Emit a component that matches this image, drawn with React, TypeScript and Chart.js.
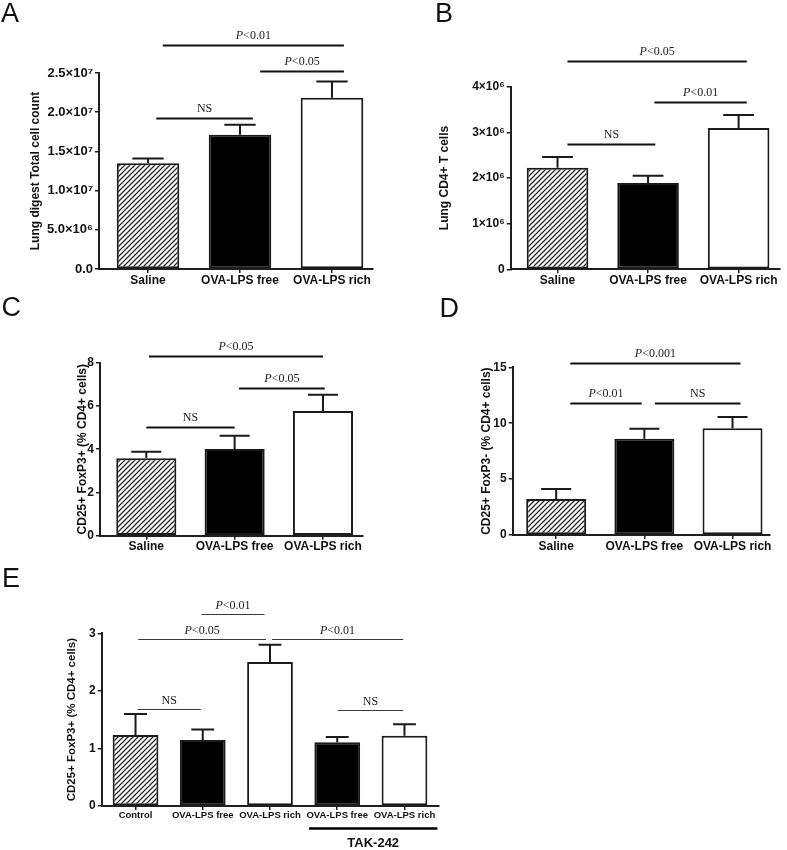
import React, { useEffect, useRef } from "react";
import { Chart, registerables } from "chart.js";

Chart.register(...registerables);

const SANS = "'Liberation Sans', Arial, Helvetica, sans-serif";
const SERIF = "'Liberation Serif', 'Times New Roman', serif";

// ---------- data ----------
const groups3 = ["Saline", "OVA-LPS free", "OVA-LPS rich"];
const groupsE = ["Control", "OVA-LPS free", "OVA-LPS rich", "OVA-LPS free", "OVA-LPS rich"];
const fills3 = ["hatch", "black", "white"];
const fillsE = ["hatch", "black", "white", "black", "white"];

// Panel A
const meanA = [1.348e7, 1.713e7, 2.185e7];
const semA = [0.062e7, 0.127e7, 0.205e7];
const yTicksA = ["0.0", "5.0×10⁶", "1.0×10⁷", "1.5×10⁷", "2.0×10⁷", "2.5×10⁷"];
const sigA = [
  { from: 0.16, to: 2.13, level: 2.857e7, label: "P<0.01" },
  { from: 1.22, to: 2.13, level: 2.526e7, label: "P<0.05" },
  { from: 0.09, to: 1.14, level: 1.926e7, label: "NS" },
];

// Panel B
const meanB = [2.226e6, 1.89e6, 3.095e6];
const semB = [0.234e6, 0.16e6, 0.285e6];
const yTicksB = ["0", "1×10⁶", "2×10⁶", "3×10⁶", "4×10⁶"];
const sigB = [
  { from: 0.11, to: 2.09, level: 4.57e6, label: "P<0.05" },
  { from: 1.07, to: 2.09, level: 3.671e6, label: "P<0.01" },
  { from: 0.11, to: 1.08, level: 2.745e6, label: "NS" },
];

// Panel C
const meanC = [3.58, 4.01, 5.77];
const semC = [0.3, 0.61, 0.75];
const yTicksC = ["0", "2", "4", "6", "8"];
const sigC = [
  { from: 0.03, to: 2.0, level: 8.324, label: "P<0.05" },
  { from: 1.05, to: 2.02, level: 6.844, label: "P<0.05" },
  { from: 0.0, to: 1.0, level: 5.027, label: "NS" },
];

// Panel D
const meanD = [3.22, 8.61, 9.54];
const semD = [0.89, 0.9, 1.01];
const yTicksD = ["0", "5", "10", "15"];
const sigD = [
  { from: 0.16, to: 2.09, level: 15.41, label: "P<0.001" },
  { from: 0.16, to: 0.97, level: 11.83, label: "P<0.01" },
  { from: 1.12, to: 2.09, level: 11.83, label: "NS" },
];

// Panel E
const meanE = [1.233, 1.146, 2.5, 1.106, 1.22];
const semE = [0.367, 0.184, 0.3, 0.094, 0.2];
const yTicksE = ["0", "1", "2", "3"];
const sigE = [
  { from: 0.98, to: 1.92, level: 3.335, label: "P<0.01" },
  { from: 0.04, to: 1.94, level: 2.901, label: "P<0.05" },
  { from: 2.03, to: 3.98, level: 2.901, label: "P<0.01" },
  { from: 0.03, to: 0.97, level: 1.68, label: "NS" },
  { from: 3.01, to: 3.98, level: 1.668, label: "NS" },
];
const takE = { from: 2.58, to: 4.49, label: "TAK-242" };

// ---------- types ----------
type Sig = { from: number; to: number; level: number; label: string };
type Spec = {
  left: number; top: number; w: number; h: number;
  axisW: number; padTop: number; padRight: number; xH: number;
  xMin: number; xMax: number;
  cats: string[]; means: number[]; errs: number[]; fills: string[];
  yMax: number; yStep: number; yLabels: string[];
  yTitle: string; titleSize: number; titlePad: number;
  xFontSize: number; yFontSize: number;
  sigs: Sig[]; sigLineW: number; sigColor: string; sigGap: number;
  letter: string; letterX: number; letterY: number;
  tak?: { from: number; to: number; label: string };
};

function makeHatch(ctx: CanvasRenderingContext2D) {
  const s = 5;
  const c = document.createElement("canvas");
  c.width = s;
  c.height = s;
  const g = c.getContext("2d")!;
  g.fillStyle = "#ffffff";
  g.fillRect(0, 0, s, s);
  g.strokeStyle = "#262626";
  g.lineWidth = 1.25;
  g.beginPath();
  g.moveTo(-1, s + 1);
  g.lineTo(s + 1, -1);
  g.moveTo(-1, 1);
  g.lineTo(1, -1);
  g.moveTo(s - 1, s + 1);
  g.lineTo(s + 1, s - 1);
  g.stroke();
  return ctx.createPattern(c, "repeat");
}

function drawSigLabel(ctx: CanvasRenderingContext2D, label: string, cx: number, y: number) {
  const size = 12;
  ctx.fillStyle = "#1a1a1a";
  ctx.textBaseline = "alphabetic";
  ctx.textAlign = "left";
  if (label.startsWith("P")) {
    const rest = label.slice(1);
    ctx.font = `italic ${size}px ${SERIF}`;
    const wp = ctx.measureText("P").width;
    ctx.font = `${size}px ${SERIF}`;
    const wr = ctx.measureText(rest).width;
    const x0 = cx - (wp + wr) / 2;
    ctx.font = `italic ${size}px ${SERIF}`;
    ctx.fillText("P", x0, y);
    ctx.font = `${size}px ${SERIF}`;
    ctx.fillText(rest, x0 + wp, y);
  } else {
    ctx.font = `${size}px ${SERIF}`;
    ctx.textAlign = "center";
    ctx.fillText(label, cx, y);
  }
}

function Panel({ spec }: { spec: Spec }) {
  const ref = useRef<HTMLCanvasElement | null>(null);
  useEffect(() => {
    const canvas = ref.current!;
    const ctx = canvas.getContext("2d")!;
    const hatch = makeHatch(ctx);
    const colors = spec.fills.map((f) => (f === "hatch" ? hatch : f === "black" ? "#000000" : "#ffffff"));
    const axisColor = "#1f1f1f";
    const textColor = "#111111";

    const overlay = {
      id: "overlay" + spec.letter,
      afterDatasetsDraw(chart: any) {
        const c = chart.ctx as CanvasRenderingContext2D;
        const ys = chart.scales.y;
        const meta = chart.getDatasetMeta(0);
        c.save();
        c.strokeStyle = "#1a1a1a";
        c.lineWidth = 2;
        meta.data.forEach((bar: any, i: number) => {
          const top = ys.getPixelForValue(spec.means[i] + spec.errs[i]);
          const half = bar.width / 4;
          c.beginPath();
          c.moveTo(bar.x, bar.y);
          c.lineTo(bar.x, top);
          c.moveTo(bar.x - half, top);
          c.lineTo(bar.x + half, top);
          c.stroke();
        });
        c.restore();
      },
      afterDraw(chart: any) {
        const c = chart.ctx as CanvasRenderingContext2D;
        const xs = chart.scales.x;
        const ys = chart.scales.y;
        c.save();
        // panel letter
        c.fillStyle = textColor;
        c.font = `27px ${SANS}`;
        c.textAlign = "left";
        c.textBaseline = "alphabetic";
        c.fillText(spec.letter, spec.letterX, spec.letterY);
        // significance brackets
        spec.sigs.forEach((s) => {
          const x1 = xs.getPixelForValue(s.from);
          const x2 = xs.getPixelForValue(s.to);
          const y = Math.round(ys.getPixelForValue(s.level)) + 0.5;
          c.strokeStyle = spec.sigColor;
          c.lineWidth = spec.sigLineW;
          c.beginPath();
          c.moveTo(x1, y);
          c.lineTo(x2, y);
          c.stroke();
          drawSigLabel(c, s.label, (x1 + x2) / 2, y - spec.sigGap);
        });
        // treatment group bar
        if (spec.tak) {
          const x1 = xs.getPixelForValue(spec.tak.from);
          const x2 = xs.getPixelForValue(spec.tak.to);
          const y = chart.chartArea.bottom + 22.5;
          c.strokeStyle = "#000000";
          c.lineWidth = 2.5;
          c.beginPath();
          c.moveTo(x1, y);
          c.lineTo(x2, y);
          c.stroke();
          c.fillStyle = textColor;
          c.font = `bold 13px ${SANS}`;
          c.textAlign = "center";
          c.fillText(spec.tak.label, (x1 + x2) / 2, chart.chartArea.bottom + 41);
        }
        c.restore();
      },
    };

    const chart = new Chart(canvas, {
      type: "bar",
      data: {
        datasets: [
          {
            data: spec.means.map((v, i) => ({ x: i, y: v })) as any,
            backgroundColor: colors as any,
            borderColor: "#1a1a1a",
            borderWidth: 2,
            borderSkipped: false,
            barPercentage: 0.68,
            categoryPercentage: 1,
          },
        ],
      },
      options: {
        animation: false,
        responsive: false,
        maintainAspectRatio: false,
        events: [],
        layout: { padding: { left: 0, top: spec.padTop, right: spec.padRight, bottom: 0 } },
        plugins: { legend: { display: false }, tooltip: { enabled: false } },
        scales: {
          x: {
            type: "linear",
            min: spec.xMin,
            max: spec.xMax,
            offset: false,
            bounds: "data",
            afterBuildTicks: (s: any) => {
              s.ticks = spec.cats.map((_, i) => ({ value: i }));
            },
            afterFit: (s: any) => {
              s.height = spec.xH;
            },
            ticks: {
              autoSkip: false,
              maxRotation: 0,
              minRotation: 0,
              padding: 0,
              color: textColor,
              font: { family: SANS, size: spec.xFontSize, weight: "bold" },
              callback: (_v: any, i: number) => spec.cats[i],
            },
            grid: {
              display: true,
              drawOnChartArea: false,
              drawTicks: true,
              tickLength: 4,
              color: axisColor,
              lineWidth: 1.5,
              offset: false,
            },
            border: { display: true, color: axisColor, width: 2 },
          } as any,
          y: {
            type: "linear",
            min: 0,
            max: spec.yMax,
            afterFit: (s: any) => {
              s.width = spec.axisW;
            },
            ticks: {
              stepSize: spec.yStep,
              padding: 2,
              color: textColor,
              font: { family: SANS, size: spec.yFontSize, weight: "bold" },
              callback: (_v: any, i: number) => spec.yLabels[i],
            },
            grid: {
              display: true,
              drawOnChartArea: false,
              drawTicks: true,
              tickLength: 4,
              color: axisColor,
              lineWidth: 1.5,
            },
            border: { display: true, color: axisColor, width: 2 },
            title: {
              display: true,
              text: spec.yTitle,
              color: textColor,
              font: { family: SANS, size: spec.titleSize, weight: "bold" },
              padding: { top: spec.titlePad, bottom: 0 },
            },
          } as any,
        },
      },
      plugins: [overlay],
    });
    return () => chart.destroy();
  }, [spec]);

  return (
    <canvas
      ref={ref}
      width={spec.w}
      height={spec.h}
      style={{ position: "absolute", left: spec.left, top: spec.top, width: spec.w, height: spec.h }}
    />
  );
}

const specs: Spec[] = [
  {
    left: 0, top: 0, w: 390, h: 290,
    axisW: 99, padTop: 73, padRight: 17, xH: 21, xMin: -0.533, xMax: 2.446,
    cats: groups3, means: meanA, errs: semA, fills: fills3,
    yMax: 2.5e7, yStep: 5e6, yLabels: yTicksA,
    yTitle: "Lung digest Total cell count", titleSize: 12, titlePad: 28.8,
    xFontSize: 12, yFontSize: 13,
    sigs: sigA, sigLineW: 2, sigColor: "#111111", sigGap: 7,
    letter: "A", letterX: 1, letterY: 22,
  },
  {
    left: 390, top: 0, w: 397, h: 290,
    axisW: 120.7, padTop: 86.7, padRight: 7, xH: 20.7, xMin: -0.517, xMax: 2.457,
    cats: groups3, means: meanB, errs: semB, fills: fills3,
    yMax: 4e6, yStep: 1e6, yLabels: yTicksB,
    yTitle: "Lung CD4+ T cells", titleSize: 12, titlePad: 47.8,
    xFontSize: 12, yFontSize: 12,
    sigs: sigB, sigLineW: 2, sigColor: "#111111", sigGap: 7,
    letter: "B", letterX: 45, letterY: 22,
  },
  {
    left: 0, top: 290, w: 390, h: 265,
    axisW: 100, padTop: 72.7, padRight: 27, xH: 19.3, xMin: -0.524, xMax: 2.453,
    cats: groups3, means: meanC, errs: semC, fills: fills3,
    yMax: 8, yStep: 2, yLabels: yTicksC,
    yTitle: "CD25+ FoxP3+ (% CD4+ cells)", titleSize: 12, titlePad: 75.8,
    xFontSize: 12, yFontSize: 12,
    sigs: sigC, sigLineW: 2, sigColor: "#111111", sigGap: 7,
    letter: "C", letterX: 1.5, letterY: 26,
  },
  {
    left: 390, top: 290, w: 397, h: 265,
    axisW: 122.7, padTop: 77.3, padRight: 17, xH: 20, xMin: -0.493, xMax: 2.425,
    cats: groups3, means: meanD, errs: semD, fills: fills3,
    yMax: 15, yStep: 5, yLabels: yTicksD,
    yTitle: "CD25+ FoxP3- (% CD4+ cells)", titleSize: 12, titlePad: 89.8,
    xFontSize: 12, yFontSize: 12,
    sigs: sigD, sigLineW: 2, sigColor: "#111111", sigGap: 7,
    letter: "D", letterX: 49.5, letterY: 27,
  },
  {
    left: 0, top: 555, w: 520, h: 295,
    axisW: 101.7, padTop: 78.3, padRight: 81.7, xH: 44, xMin: -0.503, xMax: 4.503,
    cats: groupsE, means: meanE, errs: semE, fills: fillsE,
    yMax: 3, yStep: 1, yLabels: yTicksE,
    yTitle: "CD25+ FoxP3+ (% CD4+ cells)", titleSize: 11.5, titlePad: 64.8,
    xFontSize: 9.5, yFontSize: 12,
    sigs: sigE, sigLineW: 1.2, sigColor: "#3a3a3a", sigGap: 6,
    letter: "E", letterX: 2, letterY: 32,
    tak: takE,
  },
];

export default function App() {
  return (
    <div style={{ position: "absolute", left: 0, top: 0, width: 787, height: 850, background: "#ffffff" }}>
      {specs.map((s) => (
        <Panel key={s.letter} spec={s} />
      ))}
    </div>
  );
}
